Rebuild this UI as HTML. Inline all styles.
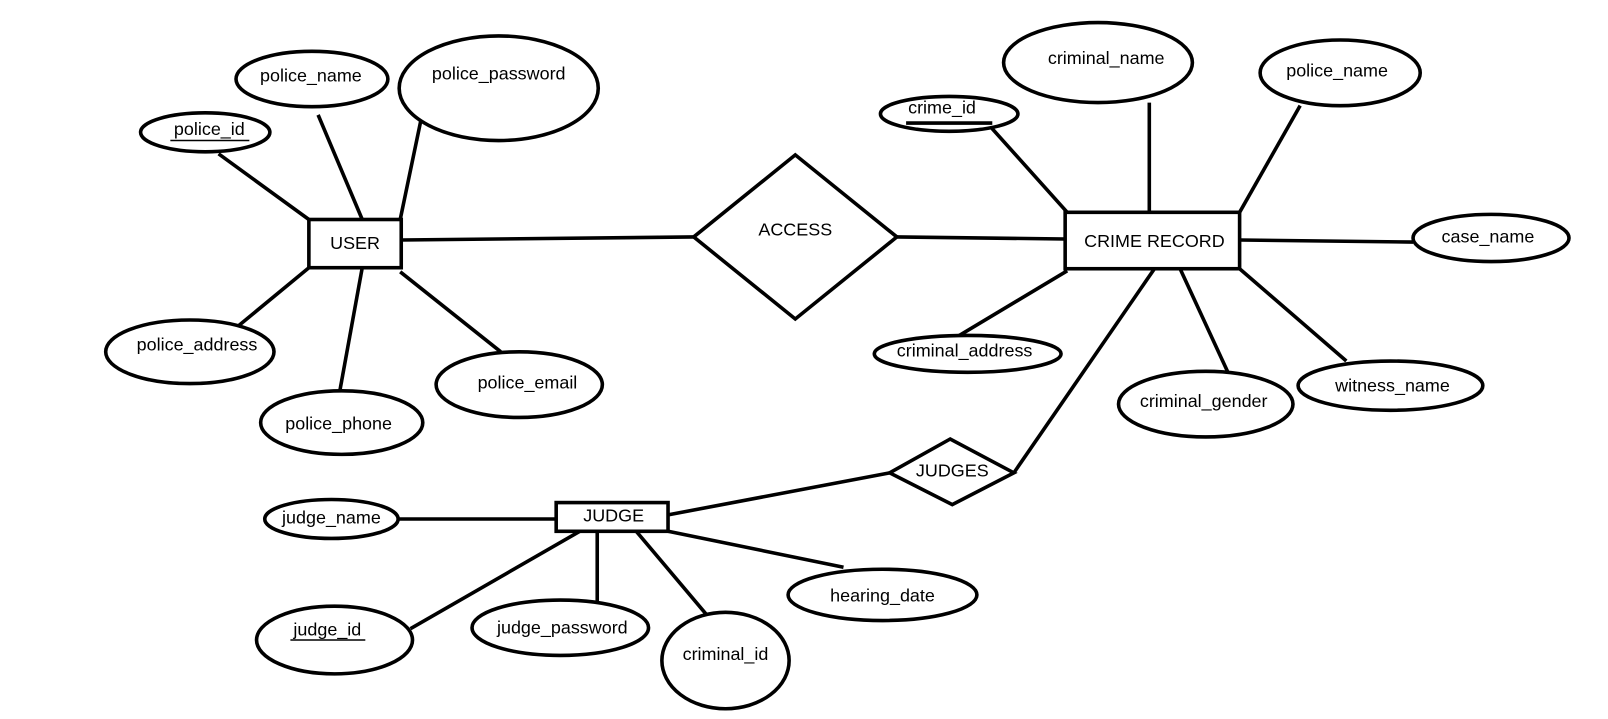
<!DOCTYPE html>
<html><head><meta charset="utf-8"><style>
html,body{margin:0;padding:0;background:#fff;}
svg{display:block;}
text{font-family:"Liberation Sans",sans-serif;font-size:17.5px;fill:#000;text-anchor:middle;dominant-baseline:middle;}
</style></head><body>
<svg width="1608" height="719" viewBox="0 0 1567 701" preserveAspectRatio="none" xmlns="http://www.w3.org/2000/svg">
<g stroke="#000" stroke-width="3.5" fill="none">
<line x1="213" y1="150" x2="301" y2="214"/>
<line x1="310" y1="112" x2="353" y2="214"/>
<line x1="410" y1="118" x2="390" y2="214"/>
<line x1="301" y1="261" x2="232" y2="318"/>
<line x1="353" y1="261" x2="331" y2="382"/>
<line x1="390" y1="265" x2="488" y2="343"/>
<line x1="391" y1="234" x2="676" y2="231"/>
<line x1="874" y1="231" x2="1038" y2="233"/>
<line x1="962" y1="120" x2="1040" y2="207"/>
<line x1="1120" y1="100" x2="1120" y2="207"/>
<line x1="1267" y1="103" x2="1208" y2="207"/>
<line x1="1208" y1="234" x2="1377" y2="236"/>
<line x1="1208" y1="262" x2="1312" y2="352"/>
<line x1="1150" y1="262" x2="1198" y2="366"/>
<line x1="1040" y1="264" x2="930" y2="330"/>
<line x1="1125" y1="262" x2="988" y2="461"/>
<line x1="867" y1="461" x2="651" y2="502"/>
<line x1="389" y1="506" x2="542" y2="506"/>
<line x1="565" y1="518" x2="400" y2="613"/>
<line x1="582" y1="518" x2="582" y2="598"/>
<line x1="620" y1="518" x2="690" y2="601"/>
<line x1="651" y1="518" x2="822" y2="553"/>
<rect x="301" y="214" width="90" height="47" fill="#fff"/>
<rect x="1038" y="207" width="170" height="55" fill="#fff"/>
<rect x="542" y="490" width="109" height="28" fill="#fff"/>
<polygon points="676,231 775,151 874,231 775,311" fill="#fff"/>
<polygon points="867,461 926,428 988,461 928,492" fill="#fff"/>
<ellipse cx="200" cy="129" rx="63" ry="19" fill="#fff"/>
<ellipse cx="304" cy="77" rx="74" ry="27" fill="#fff"/>
<ellipse cx="486" cy="86" rx="97" ry="51" fill="#fff"/>
<ellipse cx="185" cy="343" rx="82" ry="31" fill="#fff"/>
<ellipse cx="333" cy="412" rx="79" ry="31" fill="#fff"/>
<ellipse cx="506" cy="375" rx="81" ry="32" fill="#fff"/>
<ellipse cx="925" cy="111" rx="67" ry="17" fill="#fff"/>
<ellipse cx="1070" cy="61" rx="92" ry="39" fill="#fff"/>
<ellipse cx="1306" cy="71" rx="78" ry="32" fill="#fff"/>
<ellipse cx="1453" cy="232" rx="76" ry="23" fill="#fff"/>
<ellipse cx="1355" cy="376" rx="90" ry="24" fill="#fff"/>
<ellipse cx="1175" cy="394" rx="85" ry="32" fill="#fff"/>
<ellipse cx="943" cy="345" rx="91" ry="18" fill="#fff"/>
<ellipse cx="323" cy="506" rx="65" ry="19" fill="#fff"/>
<ellipse cx="326" cy="624" rx="76" ry="33" fill="#fff"/>
<ellipse cx="546" cy="612" rx="86" ry="27" fill="#fff"/>
<ellipse cx="707" cy="644" rx="62" ry="47" fill="#fff"/>
<ellipse cx="860" cy="580" rx="92" ry="25" fill="#fff"/>
<line x1="883" y1="120" x2="967" y2="120"/>
</g>
<text x="204" y="127">police_id</text>
<line x1="166" y1="137" x2="243" y2="137" stroke="#000" stroke-width="1.5"/>
<text x="303" y="75">police_name</text>
<text x="486" y="73">police_password</text>
<text x="346" y="238">USER</text>
<text x="192" y="337">police_address</text>
<text x="330" y="414">police_phone</text>
<text x="514" y="374">police_email</text>
<text x="775" y="225">ACCESS</text>
<text x="918" y="106">crime_id</text>
<text x="1078" y="58">criminal_name</text>
<text x="1303" y="70">police_name</text>
<text x="1125" y="236">CRIME RECORD</text>
<text x="1450" y="232">case_name</text>
<text x="1357" y="377">witness_name</text>
<text x="1173" y="392">criminal_gender</text>
<text x="940" y="343">criminal_address</text>
<text x="928" y="460">JUDGES</text>
<text x="598" y="504">JUDGE</text>
<text x="323" y="506">judge_name</text>
<text x="319" y="615">judge_id</text>
<line x1="283" y1="624" x2="356" y2="624" stroke="#000" stroke-width="1.5"/>
<text x="548" y="613">judge_password</text>
<text x="707" y="639">criminal_id</text>
<text x="860" y="582">hearing_date</text>
</svg>
</body></html>
